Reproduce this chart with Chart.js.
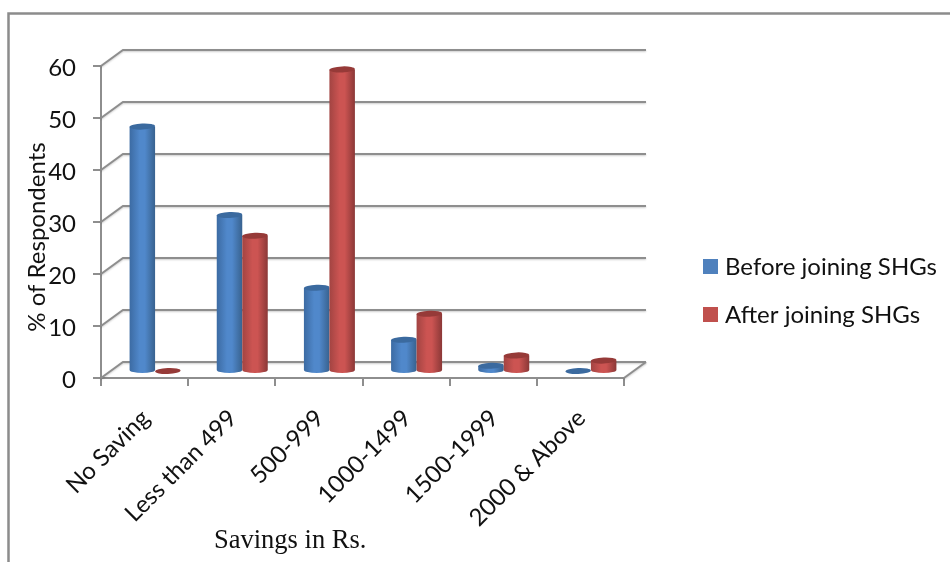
<!DOCTYPE html>
<html>
<head>
<meta charset="utf-8">
<title>Savings before and after joining SHGs</title>
<script src="https://cdn.jsdelivr.net/npm/chart.js@4"></script>
<style>
  html, body { margin: 0; padding: 0; background: #fff; }
  canvas { display: block; }
</style>
</head>
<body>
<canvas id="savings-chart" width="950" height="562"></canvas>
<script>
const categories = ["No Saving", "Less than 499", "500-999", "1000-1499", "1500-1999", "2000 & Above"];
const beforeJoining = [47, 30, 16, 6, 1, 0];
const afterJoining = [0, 26, 58, 11, 3, 2];
const seriesNames = ["Before joining SHGs", "After joining SHGs"];
const yTicks = [0, 10, 20, 30, 40, 50, 60];

const axisGray = "#8e8e8e";
const labelFont = "Lato, Carlito, sans-serif";

// how far the back wall and the bar row sit behind the front axes
const wallX = 22;
const wallY = -16;
const barX = 10.5;
const barY = -7;

const barColors = [
  { edgeL: "#3c6ba3", mid: "#5088cb", edgeR: "#38628f", top: "#3b6a9f" },
  { edgeL: "#a24442", mid: "#cc5452", edgeR: "#8b3837", top: "#963a38" }
];

function drawWall(chart) {
  const ctx = chart.ctx;
  const area = chart.chartArea;
  const yScale = chart.scales.y;

  ctx.save();
  ctx.strokeStyle = axisGray;
  ctx.lineWidth = 2;
  ctx.shadowColor = "rgba(0,0,0,0.2)";
  ctx.shadowBlur = 2;
  ctx.shadowOffsetY = 1;

  yTicks.forEach((tick) => {
    const y = yScale.getPixelForValue(tick);
    ctx.beginPath();
    ctx.moveTo(area.left, y);
    ctx.lineTo(area.left + wallX, y + wallY);
    ctx.lineTo(area.right + wallX, y + wallY);
    ctx.stroke();
  });

  // floor edge on the right
  const floor = yScale.getPixelForValue(0);
  ctx.beginPath();
  ctx.moveTo(area.right, floor);
  ctx.lineTo(area.right + wallX, floor + wallY);
  ctx.stroke();
  ctx.restore();
}

function drawCylinder(ctx, bar, colors) {
  const left = bar.x - bar.width / 2 + barX;
  const cx = bar.x + barX;
  const rx = bar.width / 2;
  const ry = 3;
  const topY = bar.y + barY;
  const baseY = bar.base + barY;

  if (bar.base - bar.y > 1) {
    const grad = ctx.createLinearGradient(left, 0, left + bar.width, 0);
    grad.addColorStop(0, colors.edgeL);
    grad.addColorStop(0.4, colors.mid);
    grad.addColorStop(0.6, colors.mid);
    grad.addColorStop(1, colors.edgeR);
    ctx.fillStyle = grad;
    ctx.beginPath();
    ctx.moveTo(left, topY);
    ctx.lineTo(left, baseY);
    ctx.ellipse(cx, baseY, rx, ry, 0, Math.PI, 0, true);
    ctx.lineTo(left + bar.width, topY);
    ctx.closePath();
    ctx.fill();
  }

  ctx.fillStyle = colors.top;
  ctx.beginPath();
  ctx.ellipse(cx, topY, rx, ry, -0.04, 0, Math.PI * 2);
  ctx.fill();
}

const depthPlugin = {
  id: "depth",
  beforeDraw(chart) {
    const ctx = chart.ctx;
    ctx.save();
    ctx.fillStyle = "#fff";
    ctx.fillRect(0, 0, chart.width, chart.height);
    // outer chart frame, runs off the top right and the bottom
    ctx.strokeStyle = "#8c8c8c";
    ctx.lineWidth = 2.5;
    ctx.beginPath();
    ctx.moveTo(8.5, chart.height);
    ctx.lineTo(8.5, 13.5);
    ctx.lineTo(chart.width, 13.5);
    ctx.stroke();
    ctx.restore();
  },
  beforeDatasetsDraw(chart) {
    const ctx = chart.ctx;
    drawWall(chart);
    ctx.save();
    chart.data.datasets.forEach((dataset, i) => {
      chart.getDatasetMeta(i).data.forEach((bar) => {
        drawCylinder(ctx, bar, barColors[i]);
      });
    });
    ctx.restore();
    return false;
  },
  afterDraw(chart) {
    const ctx = chart.ctx;
    ctx.save();
    ctx.textBaseline = "middle";
    ctx.fillStyle = "#111";

    // legend
    ctx.font = "24px " + labelFont;
    chart.data.datasets.forEach((dataset, i) => {
      const y = 267 + i * 48;
      ctx.fillStyle = dataset.backgroundColor;
      ctx.fillRect(703, y - 8, 15, 15);
      ctx.fillStyle = "#111";
      ctx.textAlign = "left";
      ctx.fillText(dataset.label, 725, y);
    });

    // axis captions
    ctx.font = "24px " + labelFont;
    ctx.textAlign = "center";
    ctx.save();
    ctx.translate(37, 237);
    ctx.rotate(-Math.PI / 2);
    ctx.fillText("% of Respondents", 0, 0);
    ctx.restore();

    ctx.font = "26.5px 'Liberation Serif', serif";
    ctx.textAlign = "left";
    ctx.fillText("Savings in Rs.", 214, 541);
    ctx.restore();
  }
};

new Chart(document.getElementById("savings-chart"), {
  type: "bar",
  data: {
    labels: categories,
    datasets: [
      { label: seriesNames[0], data: beforeJoining, backgroundColor: "#4f81bd" },
      { label: seriesNames[1], data: afterJoining, backgroundColor: "#c0504d" }
    ]
  },
  plugins: [depthPlugin],
  options: {
    responsive: false,
    animation: false,
    events: [],
    layout: { padding: { left: 0, top: 66, right: 326, bottom: 0 } },
    categoryPercentage: 0.585,
    barPercentage: 1,
    plugins: {
      legend: { display: false },
      tooltip: { enabled: false }
    },
    scales: {
      x: {
        afterFit(scale) { scale.height = 184; },
        border: { color: axisGray, width: 2 },
        grid: { color: axisGray, lineWidth: 2, drawOnChartArea: false, drawTicks: true, tickLength: 8, offset: true },
        ticks: {
          minRotation: 45,
          maxRotation: 45,
          padding: 18,
          labelOffset: 1,
          color: "#111",
          font: { family: labelFont, size: 24 }
        }
      },
      y: {
        min: 0,
        max: 60,
        afterFit(scale) { scale.width = 101; },
        afterBuildTicks(scale) { scale.ticks = yTicks.map((value) => ({ value: value })); },
        border: { color: axisGray, width: 2 },
        grid: { color: axisGray, lineWidth: 2, drawOnChartArea: false, drawTicks: true, tickLength: 8 },
        ticks: {
          padding: 17,
          labelOffset: 2,
          color: "#111",
          font: { family: labelFont, size: 24 }
        }
      }
    }
  }
});
</script>
</body>
</html>
